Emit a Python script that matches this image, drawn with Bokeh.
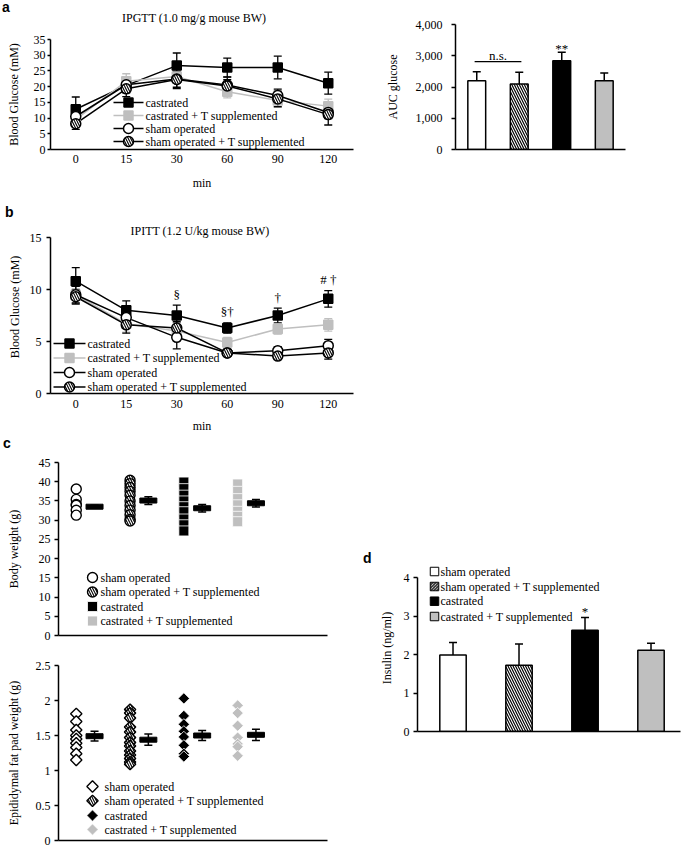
from bokeh.plotting import figure
from bokeh.models import (ColumnDataSource, Range1d, FixedTicker, NumeralTickFormatter,
                          CustomJSTickFormatter, Whisker, TeeHead, Spacer, Div)
from bokeh.layouts import row, column
from bokeh.core.properties import value
from bokeh.embed import file_html
from bokeh.resources import INLINE

SERIF = "Liberation Serif"
SANS = "Liberation Sans"
GRAY = "#bfbfbf"
FS = "12px"

# ---------------- data ----------------
minutes = ["0", "15", "30", "60", "90", "120"]

ipgtt_cas = [12.8, 20.4, 26.7, 26.1, 26.1, 21.1]
ipgtt_cas_se = [3.9, 2.4, 4.0, 3.0, 3.6, 3.5]
ipgtt_cast = [9.6, 21.7, 23.2, 18.4, 15.6, 13.8]
ipgtt_cast_se = [1.5, 2.4, 2.0, 2.0, 2.0, 2.2]
ipgtt_sham = [10.5, 20.6, 22.4, 20.5, 17.2, 11.8]
ipgtt_sham_se = [1.6, 2.0, 3.0, 2.5, 2.0, 2.0]
ipgtt_shamt = [8.2, 19.3, 22.3, 20.2, 16.1, 11.1]
ipgtt_shamt_se = [1.8, 2.5, 2.5, 2.0, 2.5, 3.3]

ipitt_cas = [10.8, 8.0, 7.5, 6.3, 7.5, 9.1]
ipitt_cas_se = [1.3, 0.9, 1.0, 0.5, 0.7, 0.8]
ipitt_cast = [9.5, 6.7, 6.0, 4.9, 6.2, 6.6]
ipitt_cast_se = [0.8, 0.8, 0.8, 0.5, 0.5, 0.6]
ipitt_sham = [9.5, 7.3, 5.4, 3.9, 4.1, 4.6]
ipitt_sham_se = [0.8, 1.0, 1.1, 0.3, 0.4, 0.6]
ipitt_shamt = [9.3, 6.6, 6.3, 3.9, 3.6, 3.9]
ipitt_shamt_se = [0.7, 0.8, 0.6, 0.3, 0.3, 0.6]
ipitt_marks = ["", "", "§", "§†", "†", "# †"]

line_groups = ["castrated", "castrated + T supplemented", "sham operated", "sham operated + T supplemented"]
bar_groups = ["sham operated", "sham operated + T supplemented", "castrated", "castrated + T supplemented"]
auc_values = [2200, 2100, 2840, 2200]
auc_se = [290, 375, 275, 245]
auc_marks = ["", "", "**", ""]
insulin_values = [1.99, 1.72, 2.63, 2.11]
insulin_se = [0.32, 0.55, 0.33, 0.18]
insulin_marks = ["", "", "*", ""]

bw_sham = [38.1, 35.4, 34.1, 33.9, 32.6, 31.3]
bw_shamt = [40.4, 39.5, 38.5, 37.5, 36.5, 35.0, 33.8, 32.6, 31.4, 30.2, 29.8]
bw_cas = [39.9, 38.2, 36.5, 35.0, 33.5, 32.2, 30.3, 28.8, 27.2]
bw_cast = [39.4, 37.5, 35.6, 34.0, 32.3, 31.0, 29.6]
bw_mean = [33.5, 35.1, 33.1, 34.4]
bw_sem = [0.4, 1.0, 1.0, 1.0]

fp_sham = [1.81, 1.70, 1.58, 1.50, 1.45, 1.39, 1.33, 1.24, 1.15]
fp_shamt = [1.87, 1.82, 1.75, 1.62, 1.55, 1.47, 1.40, 1.35, 1.28, 1.22, 1.17, 1.12, 1.09]
fp_cas = [2.03, 1.78, 1.66, 1.56, 1.48, 1.36, 1.24, 1.20]
fp_cast = [1.93, 1.82, 1.64, 1.47, 1.38, 1.34, 1.21]
fp_mean = [1.49, 1.44, 1.50, 1.51]
fp_sem = [0.07, 0.08, 0.07, 0.08]

# ---------------- styles ----------------
STY = {
    "castrated": dict(marker="square", fill="black", line="black", hatch=" ", size=9),
    "castrated + T supplemented": dict(marker="square", fill=GRAY, line=GRAY, hatch=" ", size=9),
    "sham operated": dict(marker="circle", fill="white", line="black", hatch=" ", size=10),
    "sham operated + T supplemented": dict(marker="circle", fill="white", line="black", hatch="\\", size=10),
}
BAR_FILL = ["white", "white", "black", GRAY]
BAR_HATCH = [" ", "\\", " ", " "]
PX = dict(x_range_name="px", y_range_name="py")
HATCH = dict(hatch_color="black", hatch_scale=5, hatch_weight=1.1)
tx = [i + 0.5 for i in range(len(minutes))]


def fig(w, h, l, r, t, b, xr, yr, fw, fh):
    p = figure(width=w, height=h, x_range=xr, y_range=yr, output_backend="svg",
               toolbar_location=None, min_border_left=l, min_border_right=r,
               min_border_top=t, min_border_bottom=b)
    p.extra_x_ranges = {"px": Range1d(0, fw)}
    p.extra_y_ranges = {"py": Range1d(0, fh)}
    p.grid.visible = False
    p.outline_line_color = None
    for ax in p.axis:
        ax.axis_line_width = 1.5
        ax.axis_line_color = "black"
        ax.major_tick_line_color = "black"
        ax.major_tick_line_width = 1.5
        ax.minor_tick_line_color = None
        ax.major_tick_in = 0
        ax.major_tick_out = 4
        ax.major_label_text_font = SERIF
        ax.major_label_text_font_size = FS
        ax.major_label_text_color = "black"
        ax.axis_label_text_font = SERIF
        ax.axis_label_text_font_size = FS
        ax.axis_label_text_font_style = "normal"
        ax.axis_label_text_color = "black"
    return p


def time_axis(p, standoff, label_standoff):
    p.xaxis.ticker = FixedTicker(ticks=tx)
    p.xaxis.formatter = CustomJSTickFormatter(args=dict(labels=minutes),
                                              code="return labels[Math.round(tick - 0.5)]")
    p.xaxis.major_tick_line_color = None
    p.xaxis.major_tick_out = 0
    p.xaxis.major_label_standoff = standoff
    p.xaxis.axis_label = "min"
    p.xaxis.axis_label_standoff = label_standoff


def strip(w, h, items):
    spans = "".join(
        f'<span style="position:absolute;left:{x}px;top:{y}px;font-family:\'{font}\';'
        f'font-weight:{weight};font-size:{size};line-height:{lh}px;white-space:nowrap;'
        f'color:black;">{txt}</span>'
        for txt, x, y, font, weight, size, lh in items)
    return Div(text=f'<div style="position:relative;width:{w}px;height:{h}px;">{spans}</div>',
               width=w, height=h, margin=0, styles={"overflow": "visible"})


def no_x_ticks(p):
    p.xaxis.ticker = FixedTicker(ticks=[])
    p.xaxis.major_tick_out = 0
    p.xaxis.major_label_standoff = 0


def px_text(p, txt, x, y, size=FS, align="left", base="middle"):
    p.text(x=[x], y=[y], text=[txt], text_font=value(SERIF), text_font_size=value(size),
           text_align=align, text_baseline=base, text_color="black", **PX)


def legend_lines(p, names, rows, x0, x1, tx_):
    for name, y in zip(names, rows):
        st = STY[name]
        p.segment(x0=[x0], y0=[y], x1=[x1], y1=[y], line_color=st["line"], line_width=1.5, **PX)
        p.scatter([(x0 + x1) / 2], [y], marker=st["marker"], size=st["size"],
                  fill_color=st["fill"], line_color=st["line"], line_width=1.5,
                  hatch_pattern=st["hatch"], **HATCH, **PX)
        px_text(p, name, tx_, y)


def line_panel(p, series):
    srcs = []
    for name, vals, se in series:
        st = STY[name]
        src = ColumnDataSource(dict(x=tx, y=vals,
                                    lo=[v - s for v, s in zip(vals, se)],
                                    hi=[v + s for v, s in zip(vals, se)]))
        srcs.append(src)
        p.add_layout(Whisker(base="x", upper="hi", lower="lo", source=src,
                             line_color=st["line"], line_width=1.3,
                             upper_head=TeeHead(size=8, line_color=st["line"], line_width=1.3),
                             lower_head=TeeHead(size=8, line_color=st["line"], line_width=1.3)))
    for (name, vals, se), src in zip(series, srcs):
        p.line("x", "y", source=src, line_color=STY[name]["line"], line_width=1.5)
    for (name, vals, se), src in zip(series, srcs):
        st = STY[name]
        p.scatter("x", "y", source=src, marker=st["marker"], size=st["size"],
                  fill_color=st["fill"], line_color=st["line"], line_width=1.5,
                  hatch_pattern=st["hatch"], **HATCH)


def bar_panel(p, vals, se, marks, width, mark_off):
    idx = list(range(len(vals)))
    src = ColumnDataSource(dict(x=idx, top=vals, hi=[v + s for v, s in zip(vals, se)],
                                fill=BAR_FILL, hatch=BAR_HATCH, mark=marks))
    p.add_layout(Whisker(base="x", upper="hi", lower="top", source=src, line_color="black",
                         line_width=1.5, upper_head=TeeHead(size=8, line_color="black", line_width=1.5),
                         lower_head=None))
    p.vbar(x="x", top="top", bottom=0, width=width, source=src, fill_color="fill",
           line_color="black", line_width=1.5, hatch_pattern="hatch", hatch_color="black",
           hatch_scale=5, hatch_weight=1.2)
    p.text(x="x", y="hi", text="mark", source=src, text_font=value(SERIF),
           text_font_size=value("13px"), text_align="center", text_baseline="alphabetic",
           y_offset=mark_off, text_color="black")


def dot_panel(p, groups, mean, sem, markers, size, angle, rows, mx, tx_, lsize):
    for i, (name, vals, mk) in enumerate(zip(bar_groups, groups, markers)):
        st = STY[name]
        lc = "black" if st["fill"] == "white" else "white"
        kw = dict(marker=mk, angle=angle, fill_color=st["fill"], line_color=lc,
                  line_width=1.4 if lc == "black" else 0.8, hatch_pattern=st["hatch"], **HATCH)
        p.scatter([i + 0.33] * len(vals), vals, size=size, **kw)
        p.scatter([mx], [rows[i]], size=lsize, **kw, **PX)
        px_text(p, name, tx_, rows[i])
    msrc = ColumnDataSource(dict(x=[i + 0.67 for i in range(len(mean))], y=mean,
                                 lo=[m - s for m, s in zip(mean, sem)],
                                 hi=[m + s for m, s in zip(mean, sem)]))
    p.rect("x", "y", width=17, height=5, width_units="screen", height_units="screen",
           source=msrc, fill_color="black", line_color="black")
    p.add_layout(Whisker(base="x", upper="hi", lower="lo", source=msrc, line_color="black",
                         line_width=1.5, level="overlay",
                         upper_head=TeeHead(size=8, line_color="black", line_width=1.5),
                         lower_head=TeeHead(size=8, line_color="black", line_width=1.5)))


# ---------------- panel a ----------------
strip_a = strip(365, 26, [("a", 2, 0, SANS, "bold", "14px", 14),
                          ("IPGTT (1.0 mg/g mouse BW)", 122, 12, SERIF, "normal", FS, 12)])

pa1 = fig(365, 169, 50, 12, 13, 46, Range1d(0, 6), Range1d(0, 35), 303, 110)
pa1.yaxis.ticker = FixedTicker(ticks=list(range(0, 36, 5)))
pa1.yaxis.major_tick_out = 3
pa1.yaxis.major_label_standoff = 2
pa1.yaxis.axis_label = "Blood Glucose (mM)"
pa1.yaxis.axis_label_standoff = 10
time_axis(pa1, 5, 10)
line_panel(pa1, [
    ("castrated", ipgtt_cas, ipgtt_cas_se),
    ("castrated + T supplemented", ipgtt_cast, ipgtt_cast_se),
    ("sham operated", ipgtt_sham, ipgtt_sham_se),
    ("sham operated + T supplemented", ipgtt_shamt, ipgtt_shamt_se),
])
legend_lines(pa1, line_groups, [47, 34, 21, 8], 63, 93, 95)

pa2 = fig(320, 195, 90, 60, 24, 46, Range1d(-0.5, 3.5), Range1d(0, 4000), 170, 125)
no_x_ticks(pa2)
pa2.yaxis.ticker = FixedTicker(ticks=[0, 1000, 2000, 3000, 4000])
pa2.yaxis.formatter = NumeralTickFormatter(format="0,0")
pa2.yaxis.major_label_standoff = 9
pa2.yaxis.axis_label = "AUC glucose"
pa2.yaxis.axis_label_standoff = 13
bar_panel(pa2, auc_values, auc_se, auc_marks, 0.42, -4)
ns_y = max(auc_values[0] + auc_se[0], auc_values[1] + auc_se[1]) + 320
pa2.line(x=[-0.05, 1.05], y=[ns_y, ns_y], line_color="black", line_width=1.3)
pa2.text(x=[0.5], y=[ns_y], text=["n.s."], text_font=value(SERIF), text_font_size=value("13px"),
         text_align="center", text_baseline="alphabetic", y_offset=-6, text_color="black")

# ---------------- panel b ----------------
strip_b = strip(365, 25, [("b", 5, 10, SANS, "bold", "14px", 14)])

pb = fig(365, 216, 50, 12, 0, 43, Range1d(0, 6), Range1d(0, 173 / 10.4), 303, 173)
pb.yaxis.ticker = FixedTicker(ticks=[0, 5, 10, 15])
pb.yaxis.bounds = (0, 15)
pb.yaxis.major_label_standoff = 5
pb.yaxis.axis_label = "Blood Glucose (mM)"
pb.yaxis.axis_label_standoff = 5
time_axis(pb, 6, 8)
line_panel(pb, [
    ("castrated", ipitt_cas, ipitt_cas_se),
    ("castrated + T supplemented", ipitt_cast, ipitt_cast_se),
    ("sham operated", ipitt_sham, ipitt_sham_se),
    ("sham operated + T supplemented", ipitt_shamt, ipitt_shamt_se),
])
mark_src = ColumnDataSource(dict(x=tx, y=[v + s for v, s in zip(ipitt_cas, ipitt_cas_se)],
                                 t=ipitt_marks))
pb.text(x="x", y="y", text="t", source=mark_src, text_font=value(SERIF),
        text_font_size=value("13px"), text_align="center", text_baseline="alphabetic",
        y_offset=-11, text_color="black")
legend_lines(pb, line_groups, [50, 35.5, 21, 6.5], 3, 35, 37)
px_text(pb, "IPITT (1.2 U/kg mouse BW)", 80, 163)

# ---------------- panel c ----------------
strip_c = strip(360, 16, [("c", 3, 0, SANS, "bold", "14px", 14)])

pc1 = fig(360, 200, 58, 33, 10, 17, Range1d(0, 5), Range1d(0, 45), 269, 173)
no_x_ticks(pc1)
pc1.yaxis.ticker = FixedTicker(ticks=list(range(0, 46, 5)))
pc1.yaxis.major_label_standoff = 4
pc1.yaxis.axis_label = "Body weight (g)"
pc1.yaxis.axis_label_standoff = 15
dot_panel(pc1, [bw_sham, bw_shamt, bw_cas, bw_cast], bw_mean, bw_sem,
          [STY[n]["marker"] for n in bar_groups], 10, 0, [58, 43.5, 29, 14.5], 34, 42, 10)

pc2 = fig(360, 194, 58, 33, 13, 6, Range1d(0, 5), Range1d(0, 2.5), 269, 175)
no_x_ticks(pc2)
pc2.yaxis.ticker = FixedTicker(ticks=[0, 0.5, 1, 1.5, 2, 2.5])
pc2.yaxis.formatter = CustomJSTickFormatter(code="return String(tick)")
pc2.yaxis.major_label_standoff = 4
pc2.yaxis.axis_label = "Epididymal fat pad weight (g)"
pc2.yaxis.axis_label_standoff = 12
dot_panel(pc2, [fp_sham, fp_shamt, fp_cas, fp_cast], fp_mean, fp_sem,
          ["square"] * 4, 8, 0.785398, [54, 39.7, 25, 11], 34, 46, 8)

# ---------------- panel d ----------------
strip_d = strip(325, 14, [("d", 3, 1, SANS, "bold", "14px", 14)])

pd_ = fig(325, 282, 57, 5, 0, 115, Range1d(-0.538, -0.538 + 263 / 66),
          Range1d(0, 167 / 38.5), 263, 167)
no_x_ticks(pd_)
pd_.yaxis.ticker = FixedTicker(ticks=[0, 1, 2, 3, 4])
pd_.yaxis.bounds = (0, 4)
pd_.yaxis.major_label_standoff = 4
pd_.yaxis.axis_label = "Insulin (ng/ml)"
pd_.yaxis.axis_label_standoff = 7
bar_panel(pd_, insulin_values, insulin_se, insulin_marks, 0.4, -6)
for name, f, h, y in zip(bar_groups, BAR_FILL, BAR_HATCH, [160, 145, 130.3, 115]):
    pd_.scatter([17], [y], marker="square", size=8.5, fill_color=f, line_color="black",
                line_width=1, hatch_pattern=h, hatch_color="black", hatch_scale=3,
                hatch_weight=1, **PX)
    px_text(pd_, name, 23, y)

layout = column(
    row(column(strip_a, pa1), pa2),
    strip_b,
    pb,
    row(column(strip_c, pc1, pc2), column(Spacer(width=325, height=114), strip_d, pd_)),
)

open("out.html", "w").write(file_html(layout, INLINE))
